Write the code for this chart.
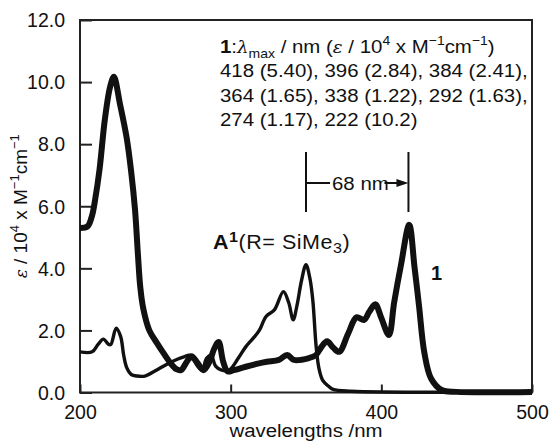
<!DOCTYPE html>
<html>
<head>
<meta charset="utf-8">
<script src="https://cdn.jsdelivr.net/npm/d3@7"></script>
<style>
  body { margin: 0; background: #fff; }
  svg text { font-family: "Liberation Sans", Arial, Helvetica, sans-serif; fill: #111; }
</style>
</head>
<body>
<div class="chart"></div>
<script>
const width = 552;
const height = 443;
const margin = { top: 20, right: 20, bottom: 50.5, left: 80 };

// compound 1 (thick trace)
const wl1 = [200, 205, 208, 210, 213, 216.5, 220, 222.5, 226.5, 231, 234, 236.5, 238.5, 240, 242, 246, 251, 255, 260, 264, 267, 271, 274, 278, 282, 286, 289, 292, 295, 298, 302, 310, 318, 324, 332, 337.5, 342, 352, 356.5, 360, 364, 368, 372, 378, 383.5, 388.5, 392, 396, 400, 405, 408.5, 413, 418.5, 422, 425, 428.5, 433, 440, 450, 500];
const eps1 = [5.3, 5.35, 5.7, 6.2, 7.2, 8.8, 9.85, 10.17, 9.3, 8.2, 7.1, 5.9, 4.4, 3.4, 2.7, 2.0, 1.6, 1.3, 0.95, 0.75, 0.72, 1.0, 1.17, 0.95, 0.72, 1.0, 1.4, 1.63, 1.0, 0.68, 0.72, 0.83, 0.93, 0.99, 1.05, 1.21, 1.05, 1.11, 1.2, 1.45, 1.65, 1.45, 1.31, 1.9, 2.42, 2.34, 2.6, 2.84, 2.4, 1.85, 2.9, 4.1, 5.4, 4.05, 2.8, 1.3, 0.45, 0.08, 0.02, 0.02];

// A1 (R = SiMe3), thin trace
const wlA = [200, 208, 212, 215.5, 219, 220.5, 224, 227, 229, 231, 234, 238, 243, 250, 258, 265, 269, 273, 278, 281, 284, 287, 290, 294, 299, 305, 310, 315, 319, 323.5, 329, 335, 338.5, 341.5, 344, 347, 350, 352.5, 354.5, 356.7, 358.5, 361, 365, 368, 380, 500];
const epsA = [1.31, 1.31, 1.55, 1.72, 1.55, 1.55, 2.07, 1.8, 1.2, 0.8, 0.58, 0.53, 0.53, 0.7, 0.92, 1.08, 1.15, 1.2, 0.85, 0.72, 1.1, 1.2, 0.85, 0.72, 0.72, 1.1, 1.47, 1.75, 2.0, 2.45, 2.66, 3.25, 2.9, 2.34, 2.8, 3.6, 4.12, 3.7, 2.98, 1.5, 0.8, 0.4, 0.2, 0.1, 0.04, 0.02];

const xTicks = [200, 300, 400, 500];
const yTicks = [0, 2, 4, 6, 8, 10, 12];
const lambdaMaxLines = [
  '418 (5.40), 396 (2.84), 384 (2.41),',
  '364 (1.65), 338 (1.22), 292 (1.63),',
  '274 (1.17), 222 (10.2)'
];
const peakA = 350;
const peak1 = 418;

// the original figure is a little wider than plain Helvetica
const stretch = 1.075;

const svg = d3
  .select('.chart')
  .append('svg')
  .attr('width', width)
  .attr('height', height)
  .style('font-size', '19px');

const x = d3
  .scaleLinear()
  .domain([200, 500])
  .range([margin.left, width - margin.right]);
const y = d3
  .scaleLinear()
  .domain([0, 12])
  .range([height - margin.bottom, margin.top]);

// frame
svg
  .append('rect')
  .attr('x', x(200))
  .attr('y', y(12))
  .attr('width', x(500) - x(200))
  .attr('height', y(0) - y(12))
  .attr('fill', 'none')
  .attr('stroke', '#222')
  .attr('stroke-width', 2);

const yAxis = svg
  .append('g')
  .attr('transform', `translate(${x(200)},0)`)
  .call(
    d3
      .axisLeft(y)
      .tickValues(yTicks)
      .tickSize(-12)
      .tickPadding(15)
      .tickFormat(d3.format('.1f'))
  );
const xAxis = svg
  .append('g')
  .attr('transform', `translate(0,${y(0)})`)
  .call(
    d3
      .axisBottom(x)
      .tickValues(xTicks)
      .tickSize(-8)
      .tickPadding(13)
  );
[xAxis, yAxis].forEach(g => {
  g.select('.domain').remove();
  g.selectAll('line').attr('stroke', '#222').attr('stroke-width', 2);
  g.selectAll('text')
    .attr('fill', '#111')
    .style('font-size', '19.5px')
    .style('font-family', '"Liberation Sans", Arial, sans-serif');
});
yAxis.selectAll('text').attr('dy', '0.35em');

const line = d3
  .line()
  .x(d => x(d[0]))
  .y(d => y(d[1]))
  .curve(d3.curveCatmullRom.alpha(0.5));

svg
  .append('path')
  .datum(d3.zip(wlA, epsA))
  .attr('d', line)
  .attr('fill', 'none')
  .attr('stroke', '#111')
  .attr('stroke-width', 3.4)
  .attr('stroke-linejoin', 'round');

svg
  .append('path')
  .datum(d3.zip(wl1, eps1))
  .attr('d', line)
  .attr('fill', 'none')
  .attr('stroke', '#111')
  .attr('stroke-width', 6)
  .attr('stroke-linejoin', 'round');

// axis titles
svg
  .append('text')
  .attr('transform', `translate(${(x(200) + x(500)) / 2},437) scale(${stretch},1)`)
  .attr('text-anchor', 'middle')
  .text('wavelengths /nm');

const yt = svg
  .append('text')
  .attr('transform', `translate(27,${(y(0) + y(12)) / 2}) rotate(-90)`)
  .attr('text-anchor', 'middle');
yt.append('tspan').style('font-family', '"DejaVu Serif", serif').style('font-style', 'italic').style('font-size', '17px').text('ε');
yt.append('tspan').text(' / 10');
yt.append('tspan').attr('dy', -8).style('font-size', '13px').text('4');
yt.append('tspan').attr('dy', 8).text(' x M');
yt.append('tspan').attr('dy', -8).style('font-size', '13px').text('−1');
yt.append('tspan').attr('dy', 8).text('cm');
yt.append('tspan').attr('dy', -8).style('font-size', '13px').text('−1');

// lambda max annotation
const t1 = svg.append('text').attr('transform', `translate(220,53) scale(${stretch},1)`);
t1.append('tspan').style('font-weight', 'bold').text('1');
t1.append('tspan').text(':');
t1.append('tspan').style('font-family', '"DejaVu Serif", serif').style('font-style', 'italic').style('font-size', '17px').text('λ');
t1.append('tspan').attr('dy', 5).style('font-size', '13px').text('max');
t1.append('tspan').attr('dy', -5).text(' / nm (');
t1.append('tspan').style('font-family', '"DejaVu Serif", serif').style('font-style', 'italic').style('font-size', '17px').text('ε');
t1.append('tspan').text(' / 10');
t1.append('tspan').attr('dy', -8).style('font-size', '13px').text('4');
t1.append('tspan').attr('dy', 8).text(' x M');
t1.append('tspan').attr('dy', -8).style('font-size', '13px').text('−1');
t1.append('tspan').attr('dy', 8).text('cm');
t1.append('tspan').attr('dy', -8).style('font-size', '13px').text('−1');
t1.append('tspan').attr('dy', 8).text(')');

svg
  .selectAll('.lmax')
  .data(lambdaMaxLines)
  .enter()
  .append('text')
  .attr('class', 'lmax')
  .attr('transform', (d, i) => `translate(220,${77 + i * 24.5}) scale(${stretch},1)`)
  .text(d => d);

// 68 nm shift marker
const shiftTop = 152;
const shiftBot = 212;
const shiftY = 183;
svg
  .selectAll('.shift')
  .data([peakA, peak1])
  .enter()
  .append('line')
  .attr('class', 'shift')
  .attr('x1', d => x(d))
  .attr('x2', d => x(d))
  .attr('y1', shiftTop)
  .attr('y2', shiftBot)
  .attr('stroke', '#111')
  .attr('stroke-width', 2);
svg
  .append('line')
  .attr('x1', x(peakA))
  .attr('x2', x(peakA) + 24)
  .attr('y1', shiftY)
  .attr('y2', shiftY)
  .attr('stroke', '#111')
  .attr('stroke-width', 2);
svg
  .append('line')
  .attr('x1', x(peak1) - 24)
  .attr('x2', x(peak1) - 8)
  .attr('y1', shiftY)
  .attr('y2', shiftY)
  .attr('stroke', '#111')
  .attr('stroke-width', 2);
svg
  .append('path')
  .attr('d', `M${x(peak1)},${shiftY} l-12,-4 l0,8 z`)
  .attr('fill', '#111');
svg
  .append('text')
  .attr('transform', `translate(${x(peakA) + 26},${shiftY + 6.5}) scale(${stretch},1)`)
  .text(`${peak1 - peakA} nm`);

// curve labels
const ta = svg
  .append('text')
  .attr('transform', `translate(213,249) scale(${stretch},1)`)
  .style('font-size', '20px')
  .style('letter-spacing', '0.5px');
ta.append('tspan').style('font-weight', 'bold').text('A');
ta.append('tspan').attr('dy', -7).style('font-weight', 'bold').style('font-size', '15px').text('1');
ta.append('tspan').attr('dy', 7).text('(R= SiMe');
ta.append('tspan').attr('dy', 4).style('font-size', '15px').text('3');
ta.append('tspan').attr('dy', -4).text(')');

svg
  .append('text')
  .attr('x', 431)
  .attr('y', 280)
  .style('font-weight', 'bold')
  .style('font-size', '20px')
  .text('1');
</script>
</body>
</html>
